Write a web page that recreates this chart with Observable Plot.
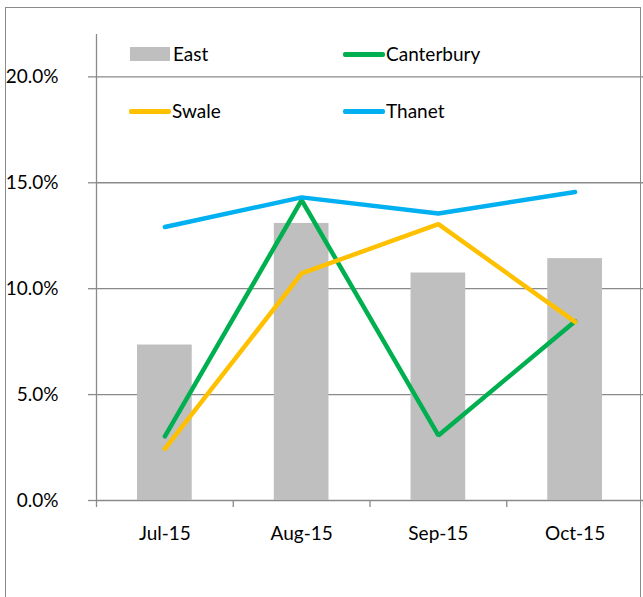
<!DOCTYPE html>
<html>
<head>
<meta charset="utf-8">
<script src="https://cdn.jsdelivr.net/npm/d3@7"></script>
<script src="https://cdn.jsdelivr.net/npm/@observablehq/plot@0.6"></script>
<style>
  html, body { margin: 0; padding: 0; background: #fff; }
  #wrap { position: relative; width: 643px; height: 597px; overflow: hidden; font-family: Lato, "Open Sans", sans-serif; }
  #border { position: absolute; left: 5px; top: 7px; width: 636px; height: 620px; border: 1.5px solid #8a8a8a; box-sizing: border-box; }
  #chart { position: absolute; left: 0; top: 0; }
  .leg { position: absolute; font-size: 19px; color: #000; line-height: 1; white-space: nowrap; }
  .sw { position: absolute; }
  #chart text { font-weight: 400; }
</style>
</head>
<body>
<div id="wrap">
  <div id="border"></div>
  <div id="chart"></div>
  <div id="legend"></div>
</div>
<script>
const months = ["Jul-15", "Aug-15", "Sep-15", "Oct-15"];
const east = [0.0734, 0.1308, 0.1074, 0.1142];
const canterbury = [0.0303, 0.1418, 0.0307, 0.0846];
const swale = [0.0244, 0.1072, 0.1305, 0.0843];
const thanet = [0.1291, 0.1431, 0.1355, 0.1456];
const yTicks = [0, 0.05, 0.10, 0.15, 0.20];

const colors = { East: "#BFBFBF", Canterbury: "#00B050", Swale: "#FFC000", Thanet: "#00B0F0" };

const rows = months.map((m, i) => ({ i, month: m, east: east[i], canterbury: canterbury[i], swale: swale[i], thanet: thanet[i] }));

const lineSeries = [
  ["canterbury", colors.Canterbury],
  ["swale", colors.Swale],
  ["thanet", colors.Thanet]
];

const chart = Plot.plot({
  width: 643,
  height: 597,
  marginLeft: 96,
  marginRight: 0,
  marginTop: 34,
  marginBottom: 97,
  x: { type: "linear", domain: [0, months.length] },
  y: { domain: [0, 0.22] },
  style: { fontFamily: "Lato, 'Open Sans', sans-serif", fontSize: "19px", background: "transparent", overflow: "visible" },
  marks: [
    Plot.ruleY(yTicks, { stroke: "#8a8a8a", strokeWidth: 1.3 }),
    Plot.ruleX([0], { stroke: "#8a8a8a", strokeWidth: 1.3 }),
    Plot.rectY(rows, { x1: d => d.i + 0.3, x2: d => d.i + 0.7, y1: 0, y2: "east", fill: colors.East }),
    ...lineSeries.map(([key, c]) =>
      Plot.line(rows, { x: d => d.i + 0.5, y: key, stroke: c, strokeWidth: 4.5, strokeLinecap: "round", strokeLinejoin: "miter" })
    ),
    Plot.axisY({ ticks: yTicks, tickFormat: d => (d * 100).toFixed(1) + "%", tickSize: 8, tickPadding: 30, stroke: "#8a8a8a", strokeWidth: 1.3, fill: "#000", fontSize: 19, label: null }),
    Plot.axisX({ ticks: d3.range(months.length + 1), tickFormat: () => "", tickSize: 7, stroke: "#8a8a8a", strokeWidth: 1.3, label: null }),
    Plot.axisX({ ticks: months.map((m, i) => i + 0.5), tickFormat: d => months[Math.floor(d)], tickSize: 0, tickPadding: 26, fill: "#000", fontSize: 19, label: null })
  ]
});
document.getElementById("chart").appendChild(chart);

// Legend (inside plot area, two rows)
const legendItems = [
  { name: "East", type: "rect", left: 130, top: 54 },
  { name: "Canterbury", type: "line", left: 343, top: 54 },
  { name: "Swale", type: "line", left: 129, top: 111 },
  { name: "Thanet", type: "line", left: 343, top: 111 }
];
const leg = document.getElementById("legend");
for (const it of legendItems) {
  const sw = document.createElement("div");
  sw.className = "sw";
  if (it.type === "rect") {
    sw.style.cssText = `left:${it.left}px;top:${it.top - 7}px;width:40px;height:14px;background:${colors[it.name]};`;
  } else {
    sw.style.cssText = `left:${it.left}px;top:${it.top - 2}px;width:42px;height:4.5px;border-radius:2px;background:${colors[it.name]};`;
  }
  leg.appendChild(sw);
  const t = document.createElement("div");
  t.className = "leg";
  t.textContent = it.name;
  t.style.left = (it.left + 43) + "px";
  t.style.top = (it.top - 10) + "px";
  leg.appendChild(t);
}
</script>
</body>
</html>
